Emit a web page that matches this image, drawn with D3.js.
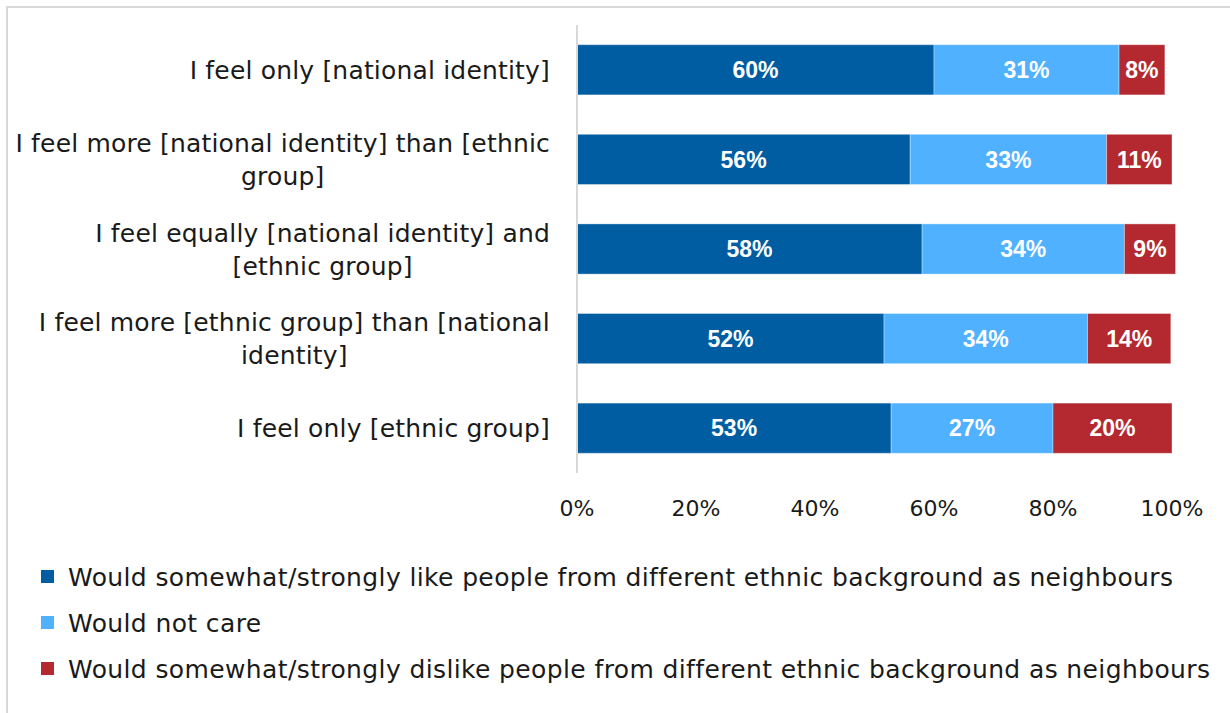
<!DOCTYPE html>
<html>
<head>
<meta charset="utf-8">
<script src="https://cdn.jsdelivr.net/npm/d3@7"></script>
<style>
  body { margin: 0; background: #fff; }
  svg { display: block; font-family: "DejaVu Sans", sans-serif; }
</style>
</head>
<body>
<div id="chart"></div>
<script>
// categories, top to bottom (each entry = lines of the wrapped label)
const categories = [
  ["I feel only [national identity]"],
  ["I feel more [national identity] than [ethnic", "group]"],
  ["I feel equally [national identity] and", "[ethnic group]"],
  ["I feel more [ethnic group] than [national", "identity]"],
  ["I feel only [ethnic group]"],
];
const seriesNames = [
  "Would somewhat/strongly like people from different ethnic background as neighbours",
  "Would not care",
  "Would somewhat/strongly dislike people from different ethnic background as neighbours",
];
const seriesColors = ["#005da2", "#4fb1ff", "#b3292f"];
const likeValues = [60.0, 56.0, 58.0, 51.6, 52.8];
const notCareValues = [31.1, 33.0, 34.0, 34.2, 27.2];
const dislikeValues = [7.7, 11.0, 8.6, 14.0, 20.0];
const xTicks = [0, 20, 40, 60, 80, 100];

const width = 1230, height = 713;
const x0 = 577, x1 = 1172;

const svg = d3.select("#chart").append("svg")
  .attr("width", width).attr("height", height);

// frame
svg.append("rect")
  .attr("x", 7).attr("y", 7)
  .attr("width", width + 10).attr("height", height + 10)
  .attr("fill", "none").attr("stroke", "#d9d9d9").attr("stroke-width", 2);

const x = d3.scaleLinear().domain([0, 100]).range([x0, x1]);
const y = d3.scaleBand()
  .domain(d3.range(categories.length))
  .range([25, 473])
  .paddingInner(0.44).paddingOuter(0.22);

const rows = categories.map((c, i) => ({
  i, vals: [likeValues[i], notCareValues[i], dislikeValues[i]]
}));

// stacked segments
const segs = [];
rows.forEach(r => {
  let acc = 0;
  r.vals.forEach((v, k) => {
    segs.push({ i: r.i, k, start: acc, end: acc + v, v });
    acc += v;
  });
});

svg.append("g").selectAll("rect")
  .data(segs).join("rect")
  .attr("x", d => x(d.start))
  .attr("y", d => y(d.i))
  .attr("width", d => x(d.end) - x(d.start))
  .attr("height", y.bandwidth())
  .attr("fill", d => seriesColors[d.k])
  .attr("stroke", "#ffffff").attr("stroke-opacity", 0.35).attr("stroke-width", 1);

svg.append("g").selectAll("text")
  .data(segs).join("text")
  .attr("x", d => (x(d.start) + x(d.end)) / 2)
  .attr("y", d => y(d.i) + y.bandwidth() / 2)
  .attr("dy", "0.36em")
  .attr("text-anchor", "middle")
  .attr("fill", "#fff")
  .attr("font-family", "'Liberation Sans', Arial, sans-serif")
  .attr("font-weight", "bold")
  .attr("font-size", 23)
  .text(d => Math.round(d.v) + "%");

// vertical axis line
svg.append("line")
  .attr("x1", x0).attr("x2", x0)
  .attr("y1", 25).attr("y2", 473)
  .attr("stroke", "#d9d9d9").attr("stroke-width", 2);

// category labels (block right-aligned, lines centred within block)
const labelRight = 550, lineH = 33;
const labG = svg.append("g").attr("font-size", 25).attr("letter-spacing", 0.18).attr("fill", "#1a1a1a");
categories.forEach((lines, i) => {
  const cy = y(i) + y.bandwidth() / 2;
  const g = labG.append("g");
  const texts = lines.map((t, j) => g.append("text")
    .attr("y", cy + (j - (lines.length - 1) / 2) * lineH)
    .attr("dy", "0.36em")
    .text(t));
  const widths = texts.map(t => t.node().getComputedTextLength());
  const maxW = d3.max(widths);
  texts.forEach((t, j) => {
    t.attr("x", labelRight - maxW / 2).attr("text-anchor", "middle");
  });
});

// x tick labels
svg.append("g").selectAll("text")
  .data(xTicks).join("text")
  .attr("x", d => x(d))
  .attr("y", 508)
  .attr("dy", "0.36em")
  .attr("text-anchor", "middle")
  .attr("font-size", 22)
  .attr("fill", "#1a1a1a")
  .text(d => d + "%");

// legend
const legY = [577, 623, 669];
const leg = svg.append("g").selectAll("g")
  .data(seriesNames).join("g")
  .attr("transform", (d, i) => `translate(41,${legY[i]})`);
leg.append("rect")
  .attr("x", 0).attr("y", -7).attr("width", 13).attr("height", 13)
  .attr("fill", (d, i) => seriesColors[i]);
leg.append("text")
  .attr("x", 27).attr("dy", "0.36em")
  .attr("font-size", 25).attr("letter-spacing", 0.38).attr("fill", "#1a1a1a")
  .text(d => d);
</script>
</body>
</html>
